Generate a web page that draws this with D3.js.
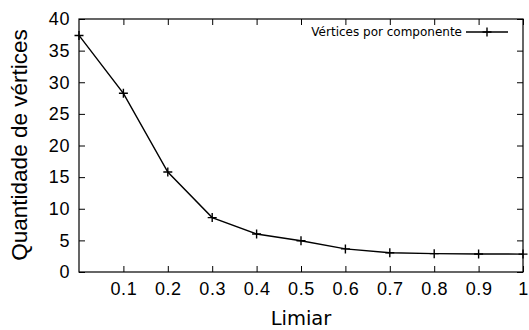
<!DOCTYPE html>
<html>
<head>
<meta charset="utf-8">
<script src="https://cdn.jsdelivr.net/npm/d3@7"></script>
<style>
	body { margin: 0; background: #fff; }
	svg { display: block; }
</style>
</head>
<body>
<div id="chart"></div>
<script>
var limiar = [0, 0.1, 0.2, 0.3, 0.4, 0.5, 0.6, 0.7, 0.8, 0.9, 1.0];
var verticesPorComponente = [37.4, 28.25, 15.8, 8.6, 6.0, 4.95, 3.65, 3.05, 2.9, 2.85, 2.83];
var xTicks = [0.1, 0.2, 0.3, 0.4, 0.5, 0.6, 0.7, 0.8, 0.9, 1];
var xTickLabels = ["0.1", "0.2", "0.3", "0.4", "0.5", "0.6", "0.7", "0.8", "0.9", "1"];
var yTicks = [0, 5, 10, 15, 20, 25, 30, 35, 40];
var seriesName = "Vértices por componente";

var width = 529;
var height = 330;
var margin = {top: 19, right: 6, bottom: 58, left: 79};
var figw = width - margin.left - margin.right;
var figh = height - margin.top - margin.bottom;
var tickLen = 6;
var plusRad = 4.5;

var x = d3.scaleLinear()
	.domain([0, 1])
	.range([margin.left, margin.left + figw]);
var y = d3.scaleLinear()
	.domain([0, 40])
	.range([margin.top + figh, margin.top]);

var svg = d3.select("#chart").append("svg")
	.attr("width", width)
	.attr("height", height);

// axes, gnuplot style: ticks point inwards and are mirrored
var xAxis = d3.axisBottom(x)
	.tickValues(xTicks)
	.tickFormat(function(d, i) { return xTickLabels[i]; })
	.tickSizeInner(-tickLen)
	.tickSizeOuter(0)
	.tickPadding(10);
var yAxis = d3.axisLeft(y)
	.tickValues(yTicks)
	.tickFormat(d3.format("d"))
	.tickSizeInner(-tickLen)
	.tickSizeOuter(0)
	.tickPadding(9);

var gx = svg.append("g")
	.attr("transform", "translate(0," + (margin.top + figh) + ")")
	.call(xAxis);
var gy = svg.append("g")
	.attr("transform", "translate(" + margin.left + ",0)")
	.call(yAxis);
var gxTop = svg.append("g")
	.attr("transform", "translate(0," + margin.top + ")")
	.call(d3.axisTop(x).tickValues(xTicks).tickSizeInner(-tickLen).tickSizeOuter(0).tickFormat(""));
var gyRight = svg.append("g")
	.attr("transform", "translate(" + (margin.left + figw) + ",0)")
	.call(d3.axisRight(y).tickValues(yTicks).tickSizeInner(-tickLen).tickSizeOuter(0).tickFormat(""));

[gx, gy, gxTop, gyRight].forEach(function(g) {
	g.select(".domain").remove();
	g.selectAll(".tick line").attr("stroke", "#000").attr("stroke-width", 1);
	g.selectAll(".tick text")
		.attr("fill", "#000")
		.style("font-family", "'Liberation Sans', Arial, sans-serif")
		.style("font-size", "18px")
		.style("letter-spacing", "0.6px");
});

svg.append("rect")
	.attr("x", margin.left)
	.attr("y", margin.top)
	.attr("width", figw)
	.attr("height", figh)
	.attr("fill", "none")
	.attr("stroke", "#000")
	.attr("stroke-width", 1.2);

// axis titles
svg.append("text")
	.text("Limiar")
	.attr("x", margin.left + figw / 2)
	.attr("y", 325)
	.style("text-anchor", "middle")
	.style("font-family", "'DejaVu Sans', sans-serif")
	.style("font-size", "19.5px");

svg.append("text")
	.text("Quantidade de vértices")
	.attr("transform", "translate(27,145), rotate(-90)")
	.style("text-anchor", "middle")
	.style("font-family", "'Liberation Sans', Arial, sans-serif")
	.style("font-size", "22.5px");

// series
var pts = limiar.map(function(d, i) { return [d, verticesPorComponente[i]]; });

var line = d3.line()
	.x(function(d) { return x(d[0]); })
	.y(function(d) { return y(d[1]); });

svg.append("path")
	.datum(pts)
	.attr("d", line)
	.attr("fill", "none")
	.attr("stroke", "#000")
	.attr("stroke-width", 1.4);

var plus = function(cx, cy) {
	return "M" + (cx - plusRad) + "," + cy + "H" + (cx + plusRad) +
		"M" + cx + "," + (cy - plusRad) + "V" + (cy + plusRad);
};

svg.append("g").selectAll("path")
	.data(pts)
	.enter().append("path")
	.attr("d", function(d) { return plus(x(d[0]), y(d[1])); })
	.attr("stroke", "#000")
	.attr("stroke-width", 1.4);

// legend (top right, inside plot)
var legend = svg.append("g");
legend.append("text")
	.text(seriesName)
	.attr("x", 462)
	.attr("y", 36)
	.style("text-anchor", "end")
	.style("font-family", "'DejaVu Sans', sans-serif")
	.style("font-size", "12px");
legend.append("path")
	.attr("d", "M466,32H508")
	.attr("stroke", "#000")
	.attr("stroke-width", 1.4);
legend.append("path")
	.attr("d", plus(487, 32))
	.attr("stroke", "#000")
	.attr("stroke-width", 1.4);
</script>
</body>
</html>
